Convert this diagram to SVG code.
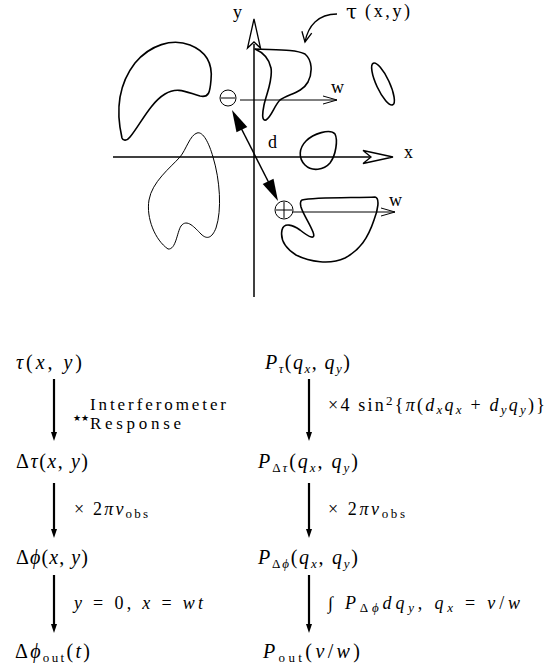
<svg xmlns="http://www.w3.org/2000/svg" width="554" height="668" viewBox="0 0 554 668">
<style>
.bl{fill:none;stroke:#000;stroke-width:1.6;stroke-linejoin:round}
.th{fill:none;stroke:#000;stroke-width:1}
.ax{fill:none;stroke:#000;stroke-width:1.5}
.oh{fill:#fff;stroke:#000;stroke-width:1.3;stroke-linejoin:miter}
.lb{font-family:"Liberation Serif",serif;font-size:18px;fill:#000}
.m{font-family:"Liberation Serif","DejaVu Serif",serif;font-size:20px;fill:#000}
.s{font-family:"Liberation Serif","DejaVu Serif",serif;font-size:18px;fill:#000}
.it{font-style:italic}
.sub{font-size:13px}
.va{stroke:#000;stroke-width:2.2}
</style>
<rect width="554" height="668" fill="#fff"/>
<g id="sky">
<path class="bl" d="M122,138 C116,112 118,85 135,63 C150,45 172,38 190,45 C205,51 213,62 211,80 C210,92 209,98 200,96 C188,93 178,86 165,94 C150,103 140,125 130,137 C127,141 123,141 122,138 Z"/>
<path class="bl" d="M255,49 C275,50 295,49 305,54 C312,60 313,72 308,82 C302,93 288,94 280,100 C274,106 272,116 266,120 C262,121 262,115 264,105 C267,92 273,80 271,68 C269,58 262,52 255,49 Z"/>
<ellipse class="bl" cx="383" cy="84" rx="6.5" ry="23" transform="rotate(-25 383 84)"/>
<path class="bl" d="M335,134 C338,140 336,155 330,163 C324,170 312,172 305,165 C298,158 299,148 306,141 C313,134 330,128 335,134 Z"/>
<path class="th" d="M197,133 C190,135 186,150 180,157 C170,168 152,182 149,200 C146,218 155,240 168,249 C176,250 177,232 181,226 C187,218 195,228 201,234 C207,240 212,238 216,228 C222,210 220,180 213,157 C209,143 203,131 197,133 Z"/>
<path class="bl" d="M302,200 C315,197 360,198 375,197 C380,198 378,210 374,220 C368,238 360,250 345,258 C330,265 310,262 296,255 C285,248 280,240 282,230 C284,222 293,225 300,230 C310,238 316,240 313,232 C309,222 303,214 301,207 C300,203 300,201 302,200 Z"/>
</g>
<g id="axes">
<line class="ax" x1="254" y1="297" x2="254" y2="44"/>
<polygon class="oh" points="254,19 247.5,48 254,42 260.5,48"/>
<line class="ax" x1="113" y1="157" x2="370" y2="157"/>
<polygon class="oh" points="393,157 363,150.5 371,157 363,163.5"/>
<text class="lb" x="233" y="18">y</text>
<text class="lb" x="404" y="158">x</text>
</g>
<g id="label-tau">
<text x="346" y="19" style="font-family:'DejaVu Serif',serif;font-size:20px">τ</text>
<text class="lb" x="365" y="17" textLength="45">(x,y)</text>
<path class="th" d="M337,14 C318,14 308,26 305,42" style="stroke-width:1.3"/>
<polyline class="th" points="301.9,31.3 305,42 311.7,33.1" style="stroke-width:1.3"/>
</g>
<g id="minus">
<circle class="th" cx="228" cy="98" r="8"/>
<line class="th" x1="221" y1="98" x2="235" y2="98"/>
</g>
<g id="plus">
<circle class="th" cx="284" cy="210" r="9"/>
<line class="th" x1="276" y1="210" x2="292" y2="210"/>
<line class="th" x1="284" y1="202" x2="284" y2="218"/>
</g>
<g id="w-arrows">
<line class="th" x1="240" y1="100" x2="337" y2="100"/>
<polyline class="th" points="323,96 337,100 323,104"/>
<text class="lb" x="331" y="93">w</text>
<line class="th" x1="293" y1="212" x2="395" y2="212"/>
<polyline class="th" points="381,208 395,212 381,216"/>
<text class="lb" x="389" y="206">w</text>
</g>
<g id="d-arrow">
<line x1="240" y1="126" x2="270" y2="185" stroke="#000" stroke-width="1.5"/>
<polygon points="232,110 247.3,126.9 236.5,132.3" fill="#000"/>
<polygon points="278,201 273.5,178.7 262.7,184.1" fill="#000"/>
<text class="lb" x="268" y="148">d</text>
</g>
<g id="n-tau">
<text class="m" x="16" y="369" textLength="66"><tspan class="it">τ</tspan>(<tspan class="it">x</tspan>, <tspan class="it">y</tspan>)</text>
</g>
<g id="n-dtau">
<text class="m" x="16" y="468" textLength="72">Δ<tspan class="it">τ</tspan>(<tspan class="it">x</tspan>, <tspan class="it">y</tspan>)</text>
</g>
<g id="n-dphi">
<text class="m" x="16" y="564" textLength="72">Δ<tspan class="it">ϕ</tspan>(<tspan class="it">x</tspan>, <tspan class="it">y</tspan>)</text>
</g>
<g id="n-dphiout">
<text class="m" x="15" y="658" textLength="75">Δ<tspan class="it">ϕ</tspan><tspan class="sub" dy="4">out</tspan><tspan dy="-4">(</tspan><tspan class="it">t</tspan>)</text>
</g>
<g id="n-ptau">
<text class="m" x="265" y="369" textLength="85"><tspan class="it">P</tspan><tspan class="sub it" dy="4">τ</tspan><tspan dy="-4">(</tspan><tspan class="it">q</tspan><tspan class="sub it" dy="4">x</tspan><tspan dy="-4">, </tspan><tspan class="it">q</tspan><tspan class="sub it" dy="4">y</tspan><tspan dy="-4">)</tspan></text>
</g>
<g id="n-pdtau">
<text class="m" x="258" y="468" textLength="100"><tspan class="it">P</tspan><tspan class="sub" dy="4">Δ</tspan><tspan class="sub it">τ</tspan><tspan dy="-4">(</tspan><tspan class="it">q</tspan><tspan class="sub it" dy="4">x</tspan><tspan dy="-4">, </tspan><tspan class="it">q</tspan><tspan class="sub it" dy="4">y</tspan><tspan dy="-4">)</tspan></text>
</g>
<g id="n-pdphi">
<text class="m" x="258" y="564" textLength="100"><tspan class="it">P</tspan><tspan class="sub" dy="4">Δ</tspan><tspan class="sub it">ϕ</tspan><tspan dy="-4">(</tspan><tspan class="it">q</tspan><tspan class="sub it" dy="4">x</tspan><tspan dy="-4">, </tspan><tspan class="it">q</tspan><tspan class="sub it" dy="4">y</tspan><tspan dy="-4">)</tspan></text>
</g>
<g id="n-pout">
<text class="m" x="263" y="658" textLength="97"><tspan class="it">P</tspan><tspan class="sub" dy="4">out</tspan><tspan dy="-4">(</tspan><tspan class="it">ν</tspan>/<tspan class="it">w</tspan>)</text>
</g>
<g id="connectors">
<line class="va" x1="54" y1="379" x2="54" y2="433"/>
<polygon points="51,432 57,432 54,441" fill="#000"/>
<line class="va" x1="54" y1="483" x2="54" y2="530"/>
<polygon points="51,529 57,529 54,538" fill="#000"/>
<line class="va" x1="54" y1="575" x2="54" y2="625"/>
<polygon points="51,624 57,624 54,633" fill="#000"/>
<line class="va" x1="309" y1="379" x2="309" y2="433"/>
<polygon points="306,432 312,432 309,441" fill="#000"/>
<line class="va" x1="309" y1="483" x2="309" y2="530"/>
<polygon points="306,529 312,529 309,538" fill="#000"/>
<line class="va" x1="309" y1="575" x2="309" y2="625"/>
<polygon points="306,624 312,624 309,633" fill="#000"/>
<text style="font-family:'DejaVu Sans',sans-serif;font-size:9px" x="73" y="421" textLength="16">★★</text>
<text class="s" style="font-size:17px" x="90" y="410" textLength="136">Interferometer</text>
<text class="s" style="font-size:17px" x="90" y="429" textLength="91">Response</text>
<text class="s" x="74" y="515" textLength="74">× 2<tspan class="it">πν</tspan><tspan class="sub" dy="3">obs</tspan></text>
<text class="s" x="74" y="609" textLength="129"><tspan class="it">y</tspan> = 0,   <tspan class="it">x</tspan> = <tspan class="it">wt</tspan></text>
<text class="s" x="328" y="411" textLength="217">×4 sin<tspan class="sub" dy="-6">2</tspan><tspan dy="6">{</tspan><tspan class="it">π</tspan>(<tspan class="it">d</tspan><tspan class="sub it" dy="3">x</tspan><tspan class="it" dy="-3">q</tspan><tspan class="sub it" dy="3">x</tspan><tspan dy="-3"> + </tspan><tspan class="it">d</tspan><tspan class="sub it" dy="3">y</tspan><tspan class="it" dy="-3">q</tspan><tspan class="sub it" dy="3">y</tspan><tspan dy="-3">)}</tspan></text>
<text class="s" x="328" y="515" textLength="77">× 2<tspan class="it">πν</tspan><tspan class="sub" dy="3">obs</tspan></text>
<text class="s" x="328" y="609" textLength="192">∫ <tspan class="it">P</tspan><tspan class="sub" dy="3">Δ</tspan><tspan class="sub it">ϕ</tspan><tspan class="it" dy="-3">dq</tspan><tspan class="sub it" dy="3">y</tspan><tspan dy="-3">,   </tspan><tspan class="it">q</tspan><tspan class="sub it" dy="3">x</tspan><tspan dy="-3"> = </tspan><tspan class="it">ν</tspan>/<tspan class="it">w</tspan></text>
</g>
</svg>
